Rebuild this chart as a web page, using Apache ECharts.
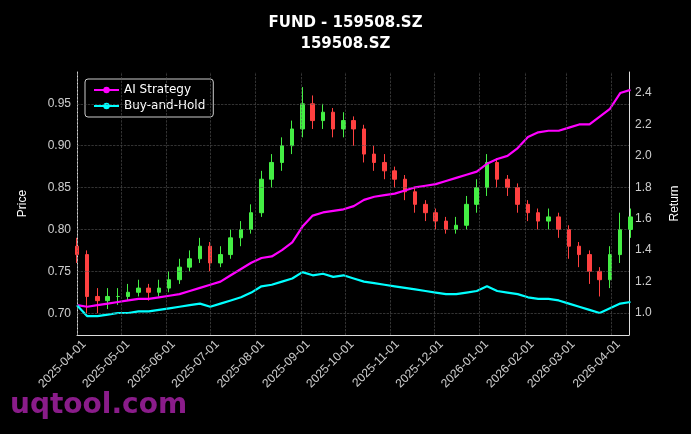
<!DOCTYPE html><html><head><meta charset="utf-8">
<script src="https://cdn.jsdelivr.net/npm/echarts@6/dist/echarts.min.js"></script>
<style>html,body{margin:0;background:#000}#c{width:691px;height:434px}</style></head><body><div id="c"></div>
<script>
const dates=['2025-04-01','2025-04-08','2025-04-15','2025-04-22','2025-04-29','2025-05-06','2025-05-13','2025-05-20','2025-05-27','2025-06-03','2025-06-10','2025-06-17','2025-06-24','2025-07-01','2025-07-08','2025-07-15','2025-07-22','2025-07-29','2025-08-05','2025-08-12','2025-08-19','2025-08-26','2025-09-02','2025-09-09','2025-09-16','2025-09-23','2025-09-30','2025-10-07','2025-10-14','2025-10-21','2025-10-28','2025-11-04','2025-11-11','2025-11-18','2025-11-25','2025-12-02','2025-12-09','2025-12-16','2025-12-23','2025-12-30','2026-01-06','2026-01-13','2026-01-20','2026-01-27','2026-02-03','2026-02-10','2026-02-17','2026-02-24','2026-03-03','2026-03-10','2026-03-17','2026-03-24','2026-03-31','2026-04-07','2026-04-14'];
const opens=[0.78,0.77,0.72,0.715,0.72,0.72,0.725,0.73,0.725,0.73,0.74,0.755,0.765,0.78,0.76,0.77,0.79,0.80,0.82,0.86,0.88,0.90,0.92,0.95,0.93,0.94,0.92,0.93,0.92,0.89,0.88,0.87,0.86,0.845,0.83,0.82,0.81,0.80,0.805,0.83,0.85,0.88,0.86,0.85,0.83,0.82,0.81,0.815,0.80,0.78,0.77,0.75,0.74,0.77,0.80];
const closes=[0.77,0.72,0.715,0.72,0.72,0.725,0.73,0.725,0.73,0.74,0.755,0.765,0.78,0.76,0.77,0.79,0.80,0.82,0.86,0.88,0.90,0.92,0.95,0.93,0.94,0.92,0.93,0.92,0.89,0.88,0.87,0.86,0.845,0.83,0.82,0.81,0.80,0.805,0.83,0.85,0.88,0.86,0.85,0.83,0.82,0.81,0.815,0.80,0.78,0.77,0.75,0.74,0.77,0.80,0.815];
const lows=[0.76,0.70,0.70,0.705,0.71,0.715,0.72,0.715,0.72,0.725,0.735,0.75,0.76,0.75,0.755,0.765,0.78,0.795,0.815,0.85,0.87,0.89,0.91,0.92,0.92,0.91,0.91,0.90,0.88,0.87,0.86,0.85,0.835,0.82,0.81,0.80,0.795,0.795,0.80,0.82,0.84,0.85,0.84,0.82,0.81,0.80,0.80,0.79,0.765,0.755,0.735,0.72,0.73,0.76,0.79];
const highs=[0.79,0.775,0.73,0.73,0.73,0.735,0.74,0.735,0.74,0.75,0.765,0.775,0.79,0.785,0.78,0.80,0.81,0.83,0.87,0.89,0.91,0.93,0.97,0.96,0.95,0.945,0.94,0.935,0.925,0.90,0.89,0.875,0.865,0.85,0.835,0.825,0.815,0.815,0.84,0.86,0.89,0.885,0.865,0.855,0.835,0.825,0.825,0.82,0.805,0.785,0.775,0.755,0.78,0.82,0.825];
const strategy=[1.05,1.04,1.05,1.06,1.07,1.08,1.09,1.09,1.10,1.11,1.12,1.14,1.16,1.18,1.20,1.24,1.28,1.32,1.35,1.36,1.40,1.45,1.55,1.62,1.64,1.65,1.66,1.68,1.72,1.74,1.75,1.76,1.78,1.80,1.81,1.82,1.84,1.86,1.88,1.90,1.95,1.98,2.00,2.05,2.12,2.15,2.16,2.16,2.18,2.20,2.20,2.25,2.30,2.40,2.42];
const buyhold=[1.05,0.98,0.98,0.99,1.00,1.00,1.01,1.01,1.02,1.03,1.04,1.05,1.06,1.04,1.06,1.08,1.10,1.13,1.17,1.18,1.20,1.22,1.26,1.24,1.25,1.23,1.24,1.22,1.20,1.19,1.18,1.17,1.16,1.15,1.14,1.13,1.12,1.12,1.13,1.14,1.17,1.14,1.13,1.12,1.10,1.09,1.09,1.08,1.06,1.04,1.02,1.00,1.03,1.06,1.07];
const monthTicks=['2025-04-01','2025-05-01','2025-06-01','2025-07-01','2025-08-01','2025-09-01','2025-10-01','2025-11-01','2025-12-01','2026-01-01','2026-02-01','2026-03-01','2026-04-01'];
const priceTicks=['0.70','0.75','0.80','0.85','0.90','0.95'];
const returnTicks=['1.0','1.2','1.4','1.6','1.8','2.0','2.2','2.4'];
const ts=d=>new Date(d+'T00:00:00').getTime();
const XMIN=ts('2025-04-01'),XMAX=ts('2026-04-13');
const ch=echarts.init(document.getElementById('c'));
const axCol='#ddd',dash={color:'#555',type:'dashed',width:0.6};
ch.setOption({
 backgroundColor:'#000',animation:false,
 title:{text:'FUND - 159508.SZ\n159508.SZ',left:'center',top:8,textStyle:{color:'#fff',fontSize:15,fontWeight:'bold',lineHeight:21,fontFamily:'DejaVu Sans'}},
 graphic:[{type:'text',left:10,top:392,style:{text:'uqtool.com',fill:'#8a1c8a',font:'bold 28px DejaVu Sans'}}],
 legend:{left:85,top:79,orient:'vertical',backgroundColor:'#000',borderColor:'#ccc',borderWidth:1,borderRadius:3,padding:[5,8],itemGap:4,textStyle:{color:'#fff',fontSize:12,fontFamily:'DejaVu Sans'},data:['AI Strategy','Buy-and-Hold'],itemWidth:25,itemHeight:8},
 grid:{left:77,right:62,top:72,bottom:99},
 xAxis:{type:'time',min:XMIN,max:XMAX,axisLine:{lineStyle:{color:axCol}},axisTick:{show:false},axisLabel:{show:false},splitLine:{show:false}},
 yAxis:[{type:'value',name:'Price',nameLocation:'middle',nameGap:48,nameTextStyle:{color:'#fff',fontSize:12},min:0.674,max:0.988,
   axisLabel:{show:false},axisLine:{show:true,lineStyle:{color:axCol}},axisTick:{show:false},splitLine:{show:false}},
  {type:'value',name:'Return',nameLocation:'middle',nameGap:40,nameTextStyle:{color:'#fff',fontSize:12},min:0.86,max:2.534,
   axisLabel:{show:false},axisLine:{show:true,lineStyle:{color:axCol}},axisTick:{show:false},splitLine:{show:false}}],
 series:[
  {type:'candlestick',name:'Price',yAxisIndex:0,barMaxWidth:4,
   data:dates.map((d,i)=>[ts(d),opens[i],closes[i],lows[i],highs[i]]),
   itemStyle:{color:'#44ee44',color0:'#ff4040',borderColor:'#44ee44',borderColor0:'#ff4040'}},
  {type:'line',name:'AI Strategy',yAxisIndex:1,symbol:'none',lineStyle:{color:'#ff00ff',width:2.2},itemStyle:{color:'#ff00ff'},data:dates.map((d,i)=>[ts(d),strategy[i]])},
  {type:'line',name:'Buy-and-Hold',yAxisIndex:1,symbol:'none',lineStyle:{color:'#00ffff',width:2.2},itemStyle:{color:'#00ffff'},data:dates.map((d,i)=>[ts(d),buyhold[i]])},
  {type:'scatter',yAxisIndex:0,symbolSize:0,silent:true,z:0,
   data:monthTicks.map(d=>[ts(d),0.674]),
   label:{show:true,position:'bottom',distance:6,formatter:p=>monthTicks[p.dataIndex],color:'#fff',fontSize:12,rotate:45,align:'right',verticalAlign:'top',offset:[4,0]},
   markLine:{silent:true,symbol:'none',label:{show:false},lineStyle:dash,data:monthTicks.map(d=>({xAxis:ts(d)}))}},
  {type:'scatter',yAxisIndex:0,symbolSize:0,silent:true,z:0,
   data:priceTicks.map(v=>[XMIN,+v]),
   label:{show:true,position:'left',distance:6,formatter:p=>priceTicks[p.dataIndex],color:'#fff',fontSize:12},
   markLine:{silent:true,symbol:'none',label:{show:false},lineStyle:dash,data:priceTicks.map(v=>({yAxis:+v}))}},
  {type:'scatter',yAxisIndex:1,symbolSize:0,silent:true,z:0,
   data:returnTicks.map(v=>[XMAX,+v]),
   label:{show:true,position:'right',distance:6,formatter:p=>returnTicks[p.dataIndex],color:'#fff',fontSize:12}}
 ]
});
</script></body></html>
